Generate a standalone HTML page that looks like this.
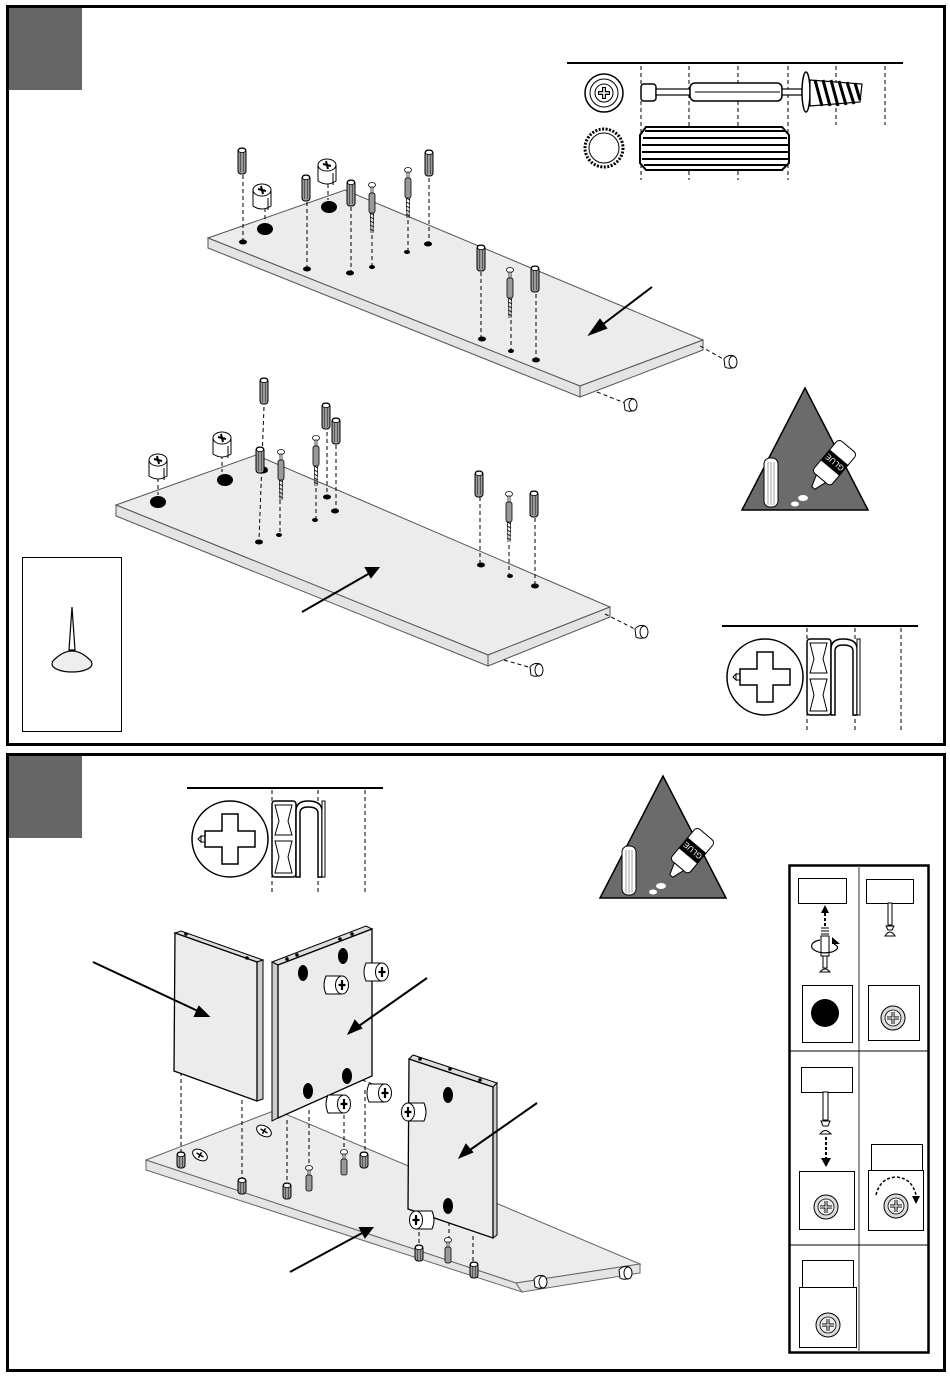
<!DOCTYPE html>
<html><head><meta charset="utf-8"><style>
html,body{margin:0;padding:0;background:#fff;}
svg{display:block;}
</style></head><body>
<svg width="950" height="1378" viewBox="0 0 950 1378" xmlns="http://www.w3.org/2000/svg">
<defs>
  <g id="dw">
    <rect x="-4" y="0" width="8" height="26" rx="3" fill="#9a9a9a" stroke="#000" stroke-width="1"/>
    <line x1="-1.5" y1="4" x2="-1.5" y2="24" stroke="#444" stroke-width="0.8"/>
    <line x1="1.5" y1="4" x2="1.5" y2="24" stroke="#444" stroke-width="0.8"/>
    <ellipse cx="0" cy="2.5" rx="3.5" ry="2.2" fill="#fff" stroke="#000" stroke-width="0.8"/>
  </g>
  <g id="sc">
    <ellipse cx="0" cy="2" rx="3.5" ry="2.5" fill="#fff" stroke="#000" stroke-width="0.8"/>
    <rect x="-1" y="4" width="2" height="6" fill="#fff" stroke="#000" stroke-width="0.7"/>
    <rect x="-3" y="10" width="6" height="20" rx="2" fill="#999" stroke="#000" stroke-width="0.8"/>
    <path d="M-2 30 L2 32 M-2 34 L2 36 M-2 38 L2 40 M-2 42 L2 44 M-2 46 L2 48" stroke="#000" stroke-width="0.8"/>
    <line x1="-1.5" y1="30" x2="-1" y2="50" stroke="#000" stroke-width="0.7"/>
    <line x1="1.5" y1="30" x2="1" y2="50" stroke="#000" stroke-width="0.7"/>
  </g>
  <g id="cam">
    <path d="M-9 0 L-9 16 Q0 22 9 16 L9 0 Z" fill="#fff" stroke="#000" stroke-width="1"/>
    <ellipse cx="0" cy="0" rx="9" ry="6" fill="#fff" stroke="#000" stroke-width="1"/>
    <path d="M-4 -1 L4 1 M-1 -4 L1 4" stroke="#000" stroke-width="2"/>
    <line x1="6" y1="8" x2="6" y2="20" stroke="#000" stroke-width="1"/>
  </g>
  <g id="camh">
    <path d="M0 -9 L-16 -9 Q-20 0 -16 9 L0 9 Z" fill="#fff" stroke="#000" stroke-width="1"/>
    <ellipse cx="0" cy="0" rx="6.5" ry="9" fill="#fff" stroke="#000" stroke-width="1"/>
    <path d="M-3.5 0 L3.5 0 M0 -5 L0 5" stroke="#000" stroke-width="2.2"/>
  </g>
  <g id="cap">
    <path d="M-6 -3 Q-2 -8 4 -6 L6 4 Q0 8 -5 5 Z" fill="#fff" stroke="#000" stroke-width="1"/>
    <ellipse cx="3" cy="0" rx="4" ry="6" fill="#fff" stroke="#000" stroke-width="1"/>
  </g>
  <g id="shortdw">
    <rect x="-4" y="0" width="8" height="16" rx="3" fill="#9a9a9a" stroke="#000" stroke-width="1"/>
    <line x1="-1.5" y1="3" x2="-1.5" y2="15" stroke="#444" stroke-width="0.8"/>
    <line x1="1.5" y1="3" x2="1.5" y2="15" stroke="#444" stroke-width="0.8"/>
    <ellipse cx="0" cy="2.5" rx="3.5" ry="2.2" fill="#fff" stroke="#000" stroke-width="0.8"/>
  </g>
  <g id="shortsc">
    <ellipse cx="0" cy="2" rx="3.5" ry="2.5" fill="#fff" stroke="#000" stroke-width="0.8"/>
    <rect x="-1" y="4" width="2" height="5" fill="#fff" stroke="#000" stroke-width="0.7"/>
    <rect x="-3" y="9" width="6" height="16" rx="2" fill="#999" stroke="#000" stroke-width="0.8"/>
  </g>
  <g id="ph">
    <circle cx="0" cy="0" r="12" fill="#ddd" stroke="#000" stroke-width="1"/>
    <circle cx="0" cy="0" r="8" fill="#eee" stroke="#000" stroke-width="0.8"/>
    <path d="M-6 0 L6 0 M0 -6 L0 6" stroke="#000" stroke-width="3"/>
    <path d="M-6 0 L6 0 M0 -6 L0 6" stroke="#eee" stroke-width="1.2"/>
  </g>
  <g id="glue">
    <polygon points="0,-122 -63,0 63,0" fill="#6b6b6b" stroke="#000" stroke-width="1.5"/>
    <rect x="-41" y="-52" width="14" height="49" rx="6" fill="#fff" stroke="#000"/>
    <path d="M-37 -48 V-5 M-34 -48 V-5 M-31 -48 V-5" stroke="#888" stroke-width="0.8"/>
    <g transform="translate(25,-42) rotate(40)">
      <rect x="-12" y="-28" width="24" height="42" rx="4" fill="#fff" stroke="#000"/>
      <rect x="-12" y="-14" width="24" height="14" fill="#000"/>
      <text x="0" y="-4" font-family="Liberation Sans, sans-serif" font-size="8" fill="#fff" text-anchor="middle" transform="rotate(180 0 -7)">GLUE</text>
      <path d="M-6 14 L6 14 L2 26 L-2 26 Z" fill="#fff" stroke="#000"/>
    </g>
    <ellipse cx="-2" cy="-12" rx="5" ry="3" fill="#fff"/>
    <ellipse cx="-10" cy="-6" rx="4" ry="2.5" fill="#fff"/>
  </g>
  <g id="clip">
    <circle cx="0" cy="0" r="38" fill="#fff" stroke="#000" stroke-width="1.5"/>
    <path d="M-8 -25 H8 V-8 H25 V8 H8 V25 H-8 V8 H-25 V-8 H-8 Z" fill="#fff" stroke="#000" stroke-width="1.5"/>
    <path d="M-29 -3 L-25 -3 M-29 3 L-25 3 M-32 0 L-29 -3 L-29 3 Z" stroke="#000" fill="none" stroke-width="1"/>
    <rect x="42" y="-38" width="24" height="76" rx="3" fill="#fff" stroke="#000" stroke-width="1.5"/>
    <path d="M45 -34 H62 L58 -18 L62 -4 H45 L49 -18 Z M45 2 H62 L58 18 L62 34 H45 L49 18 Z" fill="#fff" stroke="#000"/>
    <path d="M66 38 V-28 Q66 -38 78 -38 Q92 -38 92 -28 V38 H88 V-26 Q88 -32 78 -32 Q70 -32 70 -26 V38 Z" fill="#fff" stroke="#000" stroke-width="1.5"/>
    <rect x="92" y="-38" width="3" height="76" fill="#fff" stroke="#000"/>
  </g>
</defs>

<rect x="7.5" y="6.5" width="937" height="738" fill="none" stroke="#000" stroke-width="3"/>
<rect x="7.5" y="754.5" width="937" height="616" fill="none" stroke="#000" stroke-width="3"/>
<rect x="9" y="8" width="73" height="82" fill="#666"/>
<rect x="9" y="756" width="73" height="82" fill="#666"/>

<line x1="567" y1="63" x2="903" y2="63" stroke="#000" stroke-width="2"/>
<g stroke="#000" stroke-width="1" stroke-dasharray="4,3">
  <line x1="641" y1="66" x2="641" y2="180"/><line x1="689" y1="66" x2="689" y2="180"/>
  <line x1="738" y1="66" x2="738" y2="180"/><line x1="788" y1="66" x2="788" y2="180"/>
  <line x1="836" y1="66" x2="836" y2="125"/><line x1="885" y1="66" x2="885" y2="125"/>
</g>
<circle cx="604" cy="93" r="19" fill="#fff" stroke="#000" stroke-width="1.5"/>
<circle cx="604" cy="93" r="14" fill="#fff" stroke="#000" stroke-width="1"/>
<circle cx="604" cy="93" r="9" fill="#fff" stroke="#000" stroke-width="1"/>
<path d="M598 93 H610 M604 87 V99" stroke="#000" stroke-width="4"/>
<path d="M599 93 H609 M604 88 V98" stroke="#fff" stroke-width="1.6"/>
<rect x="641" y="84" width="15" height="17" rx="3" fill="#fff" stroke="#000" stroke-width="1.5"/>
<rect x="656" y="89" width="34" height="6" fill="#fff" stroke="#000" stroke-width="1.2"/>
<rect x="690" y="83" width="92" height="18" rx="5" fill="#fff" stroke="#000" stroke-width="1.5"/>
<line x1="695" y1="92" x2="780" y2="92" stroke="#000"/>
<rect x="782" y="89" width="20" height="6" fill="#fff" stroke="#000" stroke-width="1.2"/>
<ellipse cx="806" cy="92" rx="4" ry="20" fill="#fff" stroke="#000" stroke-width="1.5"/>
<path d="M810 80 L862 84 L860 102 L810 106 Z" fill="#fff" stroke="#000" stroke-width="1.2"/>
<path d="M815 80 L822 106 M823 80 L830 106 M831 80 L838 106 M839 81 L846 105 M847 82 L854 104 M855 83 L860 100" stroke="#000" stroke-width="3"/>
<circle cx="604" cy="148" r="19" fill="#fff" stroke="#000" stroke-width="3" stroke-dasharray="2,1.5"/>
<circle cx="604" cy="148" r="15" fill="#fff" stroke="#000" stroke-width="1"/>
<path d="M646 127 H782 L789 135 V163 L782 170 H646 L640 163 V135 Z" fill="#fff" stroke="#000" stroke-width="2"/>
<g stroke="#000" stroke-width="2">
  <line x1="645" y1="131" x2="785" y2="131"/><line x1="643" y1="138" x2="787" y2="138"/>
  <line x1="642" y1="145" x2="788" y2="145"/><line x1="642" y1="152" x2="788" y2="152"/>
  <line x1="642" y1="159" x2="788" y2="159"/><line x1="644" y1="165" x2="786" y2="165"/>
</g>

<polygon points="208,238 345,190 703,340 580,386" fill="#ececec" stroke="#555" stroke-width="1"/>
<polygon points="208,238 580,386 580,397 208,248" fill="#e4e4e4" stroke="#555" stroke-width="1"/>
<polygon points="580,386 703,340 703,350 580,397" fill="#e4e4e4" stroke="#555" stroke-width="1"/>
<polygon points="116,505 256,455 610,607 488,655" fill="#ececec" stroke="#555" stroke-width="1"/>
<polygon points="116,505 488,655 488,666 116,516" fill="#e4e4e4" stroke="#555" stroke-width="1"/>
<polygon points="488,655 610,607 610,617 488,666" fill="#e4e4e4" stroke="#555" stroke-width="1"/>

<g stroke="#000" stroke-width="1" stroke-dasharray="4,3" fill="none">
  <line x1="243" y1="175" x2="243" y2="240"/>
  <line x1="307" y1="202" x2="307" y2="268"/>
  <line x1="351" y1="207" x2="351" y2="272"/>
  <line x1="372" y1="235" x2="372" y2="266"/>
  <line x1="408" y1="220" x2="408" y2="251"/>
  <line x1="429" y1="178" x2="429" y2="243"/>
  <line x1="481" y1="272" x2="481" y2="338"/>
  <line x1="511" y1="320" x2="511" y2="350"/>
  <line x1="536" y1="294" x2="536" y2="359"/>
  <line x1="264" y1="407" x2="259" y2="540"/>
  <line x1="327" y1="432" x2="327" y2="496"/>
  <line x1="336" y1="445" x2="336" y2="510"/>
  <line x1="280" y1="500" x2="280" y2="534"/>
  <line x1="316" y1="488" x2="316" y2="519"/>
  <line x1="480" y1="497" x2="480" y2="564"/>
  <line x1="509" y1="545" x2="509" y2="575"/>
  <line x1="535" y1="518" x2="535" y2="585"/>
  <line x1="700" y1="346" x2="725" y2="360"/>
  <line x1="597" y1="392" x2="625" y2="403"/>
  <line x1="605" y1="614" x2="637" y2="630"/>
  <line x1="504" y1="660" x2="532" y2="668"/>
  <line x1="265" y1="208" x2="265" y2="222"/>
  <line x1="328" y1="184" x2="328" y2="200"/>
  <line x1="158" y1="478" x2="158" y2="495"/>
  <line x1="222" y1="455" x2="222" y2="472"/>
</g>
<g fill="#000">
  <ellipse cx="243" cy="242" rx="4" ry="2.5"/><ellipse cx="307" cy="269" rx="4" ry="2.5"/>
  <ellipse cx="350" cy="273" rx="4" ry="2.5"/><ellipse cx="372" cy="267" rx="3" ry="2"/>
  <ellipse cx="407" cy="252" rx="3" ry="2"/><ellipse cx="428" cy="244" rx="4" ry="2.5"/>
  <ellipse cx="482" cy="339" rx="4" ry="2.5"/><ellipse cx="511" cy="351" rx="3" ry="2"/>
  <ellipse cx="536" cy="360" rx="4" ry="2.5"/>
  <ellipse cx="265" cy="229" rx="8" ry="6"/><ellipse cx="329" cy="207" rx="8" ry="6"/>
  <ellipse cx="259" cy="542" rx="4" ry="2.5"/><ellipse cx="327" cy="497" rx="4" ry="2.5"/>
  <ellipse cx="335" cy="511" rx="4" ry="2.5"/><ellipse cx="279" cy="535" rx="3" ry="2"/>
  <ellipse cx="315" cy="520" rx="3" ry="2"/><ellipse cx="481" cy="565" rx="4" ry="2.5"/>
  <ellipse cx="510" cy="576" rx="3" ry="2"/><ellipse cx="535" cy="586" rx="4" ry="2.5"/>
  <ellipse cx="158" cy="502" rx="8" ry="6"/><ellipse cx="225" cy="480" rx="8" ry="6"/>
  <ellipse cx="263" cy="470" rx="5" ry="3.5"/>
</g>
<use href="#dw" x="242" y="148"/><use href="#dw" x="306" y="175"/><use href="#dw" x="351" y="180"/>
<use href="#dw" x="429" y="150"/><use href="#dw" x="481" y="245"/><use href="#dw" x="535" y="266"/>
<use href="#sc" x="372" y="183"/><use href="#sc" x="408" y="168"/><use href="#sc" x="510" y="268"/>
<use href="#cam" x="262" y="190"/><use href="#cam" x="327" y="165"/>
<use href="#dw" x="264" y="378"/><use href="#dw" x="326" y="403"/><use href="#dw" x="336" y="418"/>
<use href="#dw" x="260" y="447"/><use href="#dw" x="479" y="471"/><use href="#dw" x="534" y="491"/>
<use href="#sc" x="281" y="450"/><use href="#sc" x="316" y="436"/><use href="#sc" x="509" y="492"/>
<use href="#cam" x="158" y="460"/><use href="#cam" x="222" y="438"/>
<use href="#cap" x="730" y="362"/><use href="#cap" x="630" y="405"/>
<use href="#cap" x="641" y="632"/><use href="#cap" x="536" y="670"/>
<g stroke="#000" stroke-width="2" fill="#000">
  <line x1="652" y1="287" x2="598" y2="328"/>
  <polygon points="590,334 600,320 606,328"/>
  <line x1="302" y1="612" x2="370" y2="573"/>
  <polygon points="378,568 366,568 371,577"/>
</g>
<use href="#glue" x="805" y="510"/>
<rect x="22.5" y="557.5" width="99" height="174" fill="#fff" stroke="#000" stroke-width="1"/>
<ellipse cx="72" cy="664" rx="20" ry="8" fill="#eee" stroke="#000" stroke-width="1.2"/>
<path d="M52 662 Q72 640 92 662" fill="#eee" stroke="#000" stroke-width="1.2"/>
<path d="M69 650 L72 607 L75 650 Z" fill="#fff" stroke="#000" stroke-width="1.2"/>
<line x1="722" y1="626" x2="918" y2="626" stroke="#000" stroke-width="2"/>
<g stroke="#000" stroke-width="1" stroke-dasharray="4,3">
  <line x1="807" y1="628" x2="807" y2="730"/><line x1="855" y1="628" x2="855" y2="730"/><line x1="901" y1="628" x2="901" y2="730"/>
</g>
<use href="#clip" x="765" y="677"/>

<line x1="187" y1="788" x2="383" y2="788" stroke="#000" stroke-width="2"/>
<g stroke="#000" stroke-width="1" stroke-dasharray="4,3">
  <line x1="272" y1="790" x2="272" y2="892"/><line x1="318" y1="790" x2="318" y2="892"/><line x1="365" y1="790" x2="365" y2="892"/>
</g>
<use href="#clip" x="230" y="839"/>
<use href="#glue" x="663" y="898"/>

<polygon points="146,1160 276,1110 640,1264 516,1283" fill="#ececec" stroke="#666" stroke-width="1"/>
<polygon points="146,1160 516,1283 522,1292 146,1170" fill="#e4e4e4" stroke="#666" stroke-width="1"/>
<polygon points="516,1283 640,1264 640,1273 522,1292" fill="#e4e4e4" stroke="#666" stroke-width="1"/>
<use href="#cap" x="625" y="1273"/><use href="#cap" x="540" y="1282"/>

<g stroke="#000" stroke-width="1" stroke-dasharray="4,3">
  <line x1="181" y1="1072" x2="181" y2="1152"/>
  <line x1="242" y1="1100" x2="242" y2="1178"/>
  <line x1="287" y1="1120" x2="287" y2="1183"/>
  <line x1="309" y1="1110" x2="309" y2="1168"/>
  <line x1="344" y1="1115" x2="344" y2="1150"/>
  <line x1="365" y1="1090" x2="365" y2="1150"/>
  <line x1="419" y1="1225" x2="419" y2="1245"/>
  <line x1="449" y1="1215" x2="449" y2="1240"/>
  <line x1="473" y1="1236" x2="473" y2="1262"/>
  <line x1="307" y1="971" x2="333" y2="980"/>
  <line x1="344" y1="958" x2="373" y2="968"/>
  <line x1="307" y1="1090" x2="333" y2="1100"/>
  <line x1="349" y1="1075" x2="375" y2="1085"/>
  <line x1="417" y1="1112" x2="447" y2="1100"/>
  <line x1="423" y1="1218" x2="447" y2="1207"/>
</g>

<polygon points="175,933 181,931 263,960 257,962" fill="#ddd" stroke="#000" stroke-width="1"/>
<polygon points="257,962 263,960 263,1099 257,1101" fill="#ccc" stroke="#000" stroke-width="1"/>
<polygon points="175,933 257,962 257,1101 174,1071" fill="#ececec" stroke="#000" stroke-width="1.3"/>
<circle cx="186" cy="934" r="1.8"/><circle cx="247" cy="958" r="1.8"/>

<polygon points="272,962 366,926 372,929 278,965" fill="#ddd" stroke="#000" stroke-width="1"/>
<polygon points="272,962 278,965 278,1118 272,1121" fill="#ccc" stroke="#000" stroke-width="1"/>
<polygon points="278,965 372,929 372,1076 278,1118" fill="#ececec" stroke="#000" stroke-width="1.3"/>
<circle cx="287" cy="959" r="1.8"/><circle cx="297" cy="955" r="1.8"/><circle cx="340" cy="939" r="1.8"/><circle cx="352" cy="934" r="1.8"/>
<g fill="#000">
  <ellipse cx="303" cy="973" rx="5" ry="8"/><ellipse cx="343" cy="956" rx="5" ry="8"/>
  <ellipse cx="308" cy="1091" rx="5" ry="8"/><ellipse cx="347" cy="1076" rx="5" ry="8"/>
</g>
<use href="#camh" x="342" y="985"/><use href="#camh" x="382" y="972"/>
<use href="#camh" x="344" y="1104"/><use href="#camh" x="385" y="1093"/>

<polygon points="409,1059 413,1055 497,1083 493,1087" fill="#ddd" stroke="#000" stroke-width="1"/>
<polygon points="493,1087 497,1083 497,1235 493,1238" fill="#ccc" stroke="#000" stroke-width="1"/>
<polygon points="409,1059 493,1087 493,1238 408,1209" fill="#ececec" stroke="#000" stroke-width="1.3"/>
<circle cx="420" cy="1059" r="1.8"/><circle cx="450" cy="1069" r="1.8"/><circle cx="480" cy="1080" r="1.8"/>
<ellipse cx="448" cy="1095" rx="5" ry="8" fill="#000"/>
<ellipse cx="448" cy="1206" rx="5" ry="8" fill="#000"/>
<g transform="translate(408,1112) scale(-1,1)"><use href="#camh"/></g>
<g transform="translate(416,1220) scale(-1,1)"><use href="#camh"/></g>

<g transform="translate(200,1155) rotate(30)"><ellipse rx="8" ry="5" fill="#fff" stroke="#000"/><path d="M-4 0 H4 M0 -3 V3" stroke="#000" stroke-width="1.5"/></g>
<g transform="translate(264,1131) rotate(30)"><ellipse rx="8" ry="5" fill="#fff" stroke="#000"/><path d="M-4 0 H4 M0 -3 V3" stroke="#000" stroke-width="1.5"/></g>
<use href="#shortdw" x="181" y="1152"/><use href="#shortdw" x="242" y="1178"/>
<use href="#shortdw" x="287" y="1183"/><use href="#shortsc" x="309" y="1166"/>
<use href="#shortsc" x="344" y="1150"/><use href="#shortdw" x="364" y="1152"/>
<use href="#shortdw" x="419" y="1245"/><use href="#shortsc" x="448" y="1238"/>
<use href="#shortdw" x="474" y="1262"/>

<g stroke="#000" stroke-width="2" fill="#000">
  <line x1="93" y1="962" x2="200" y2="1012"/><polygon points="208,1016 195,1016 199,1007"/>
  <line x1="427" y1="978" x2="356" y2="1028"/><polygon points="349,1033 355,1021 361,1028"/>
  <line x1="537" y1="1103" x2="467" y2="1152"/><polygon points="460,1157 466,1145 472,1152"/>
  <line x1="290" y1="1272" x2="364" y2="1232"/><polygon points="372,1228 360,1228 365,1237"/>
</g>

<rect x="789.5" y="865.5" width="139" height="487" fill="#fff" stroke="#000" stroke-width="2.5"/>
<line x1="859" y1="866" x2="859" y2="1352" stroke="#777" stroke-width="1.5"/>
<line x1="790" y1="1051" x2="928" y2="1051" stroke="#000" stroke-width="1"/>
<line x1="790" y1="1245" x2="928" y2="1245" stroke="#000" stroke-width="1"/>
<g fill="#fff" stroke="#000" stroke-width="1">
  <rect x="798.5" y="878.5" width="48" height="25"/><rect x="866.5" y="879.5" width="47" height="24"/>
  <rect x="802.5" y="985.5" width="50" height="57"/><rect x="868.5" y="985.5" width="51" height="55"/>
  <rect x="801.5" y="1067.5" width="51" height="25"/><rect x="799.5" y="1171.5" width="55" height="58"/>
  <rect x="871.5" y="1144.5" width="51" height="26"/><rect x="868.5" y="1170.5" width="55" height="60"/>
  <rect x="802.5" y="1260.5" width="51" height="27"/><rect x="799.5" y="1287.5" width="57" height="60"/>
</g>
<circle cx="825" cy="1013" r="14" fill="#000"/>
<use href="#ph" x="893" y="1018"/><use href="#ph" x="826" y="1207"/>
<use href="#ph" x="896" y="1206"/><use href="#ph" x="828" y="1325"/>
<path d="M825 913 L825 926" stroke="#000" stroke-width="2" stroke-dasharray="3,2"/>
<polygon points="821,913 829,913 825,905" fill="#000"/>
<path d="M821 928 H829 M821 931 H829 M821 934 H829" stroke="#000"/>
<rect x="821" y="936" width="8" height="20" fill="#fff" stroke="#000"/>
<rect x="823" y="956" width="4" height="12" fill="#fff" stroke="#000"/>
<path d="M820 972 Q825 966 830 972 Z" fill="#fff" stroke="#000"/>
<path d="M834 944 Q842 948 832 952 Q818 955 812 948 Q810 942 820 940" fill="none" stroke="#000" stroke-width="1.2"/>
<polygon points="832,937 840,944 832,944" fill="#000"/>
<rect x="888" y="903" width="4" height="22" fill="#fff" stroke="#000"/>
<path d="M886 926 H894 L892 930 H888 Z M885 936 Q890 928 895 936 Z" fill="#fff" stroke="#000"/>
<rect x="823" y="1092" width="5" height="28" fill="#fff" stroke="#000"/>
<path d="M821 1121 H830 L828 1126 H823 Z M820 1134 Q825 1127 831 1134 Z" fill="#fff" stroke="#000"/>
<path d="M826 1137 L826 1158" stroke="#000" stroke-width="2" stroke-dasharray="3,2"/>
<polygon points="821,1158 831,1158 826,1167" fill="#000"/>
<path d="M876 1195 Q880 1178 896 1177 Q912 1178 916 1195" fill="none" stroke="#000" stroke-width="1.5" stroke-dasharray="3,2"/>
<polygon points="912,1196 920,1196 916,1204" fill="#000"/>
</svg>
</body></html>
